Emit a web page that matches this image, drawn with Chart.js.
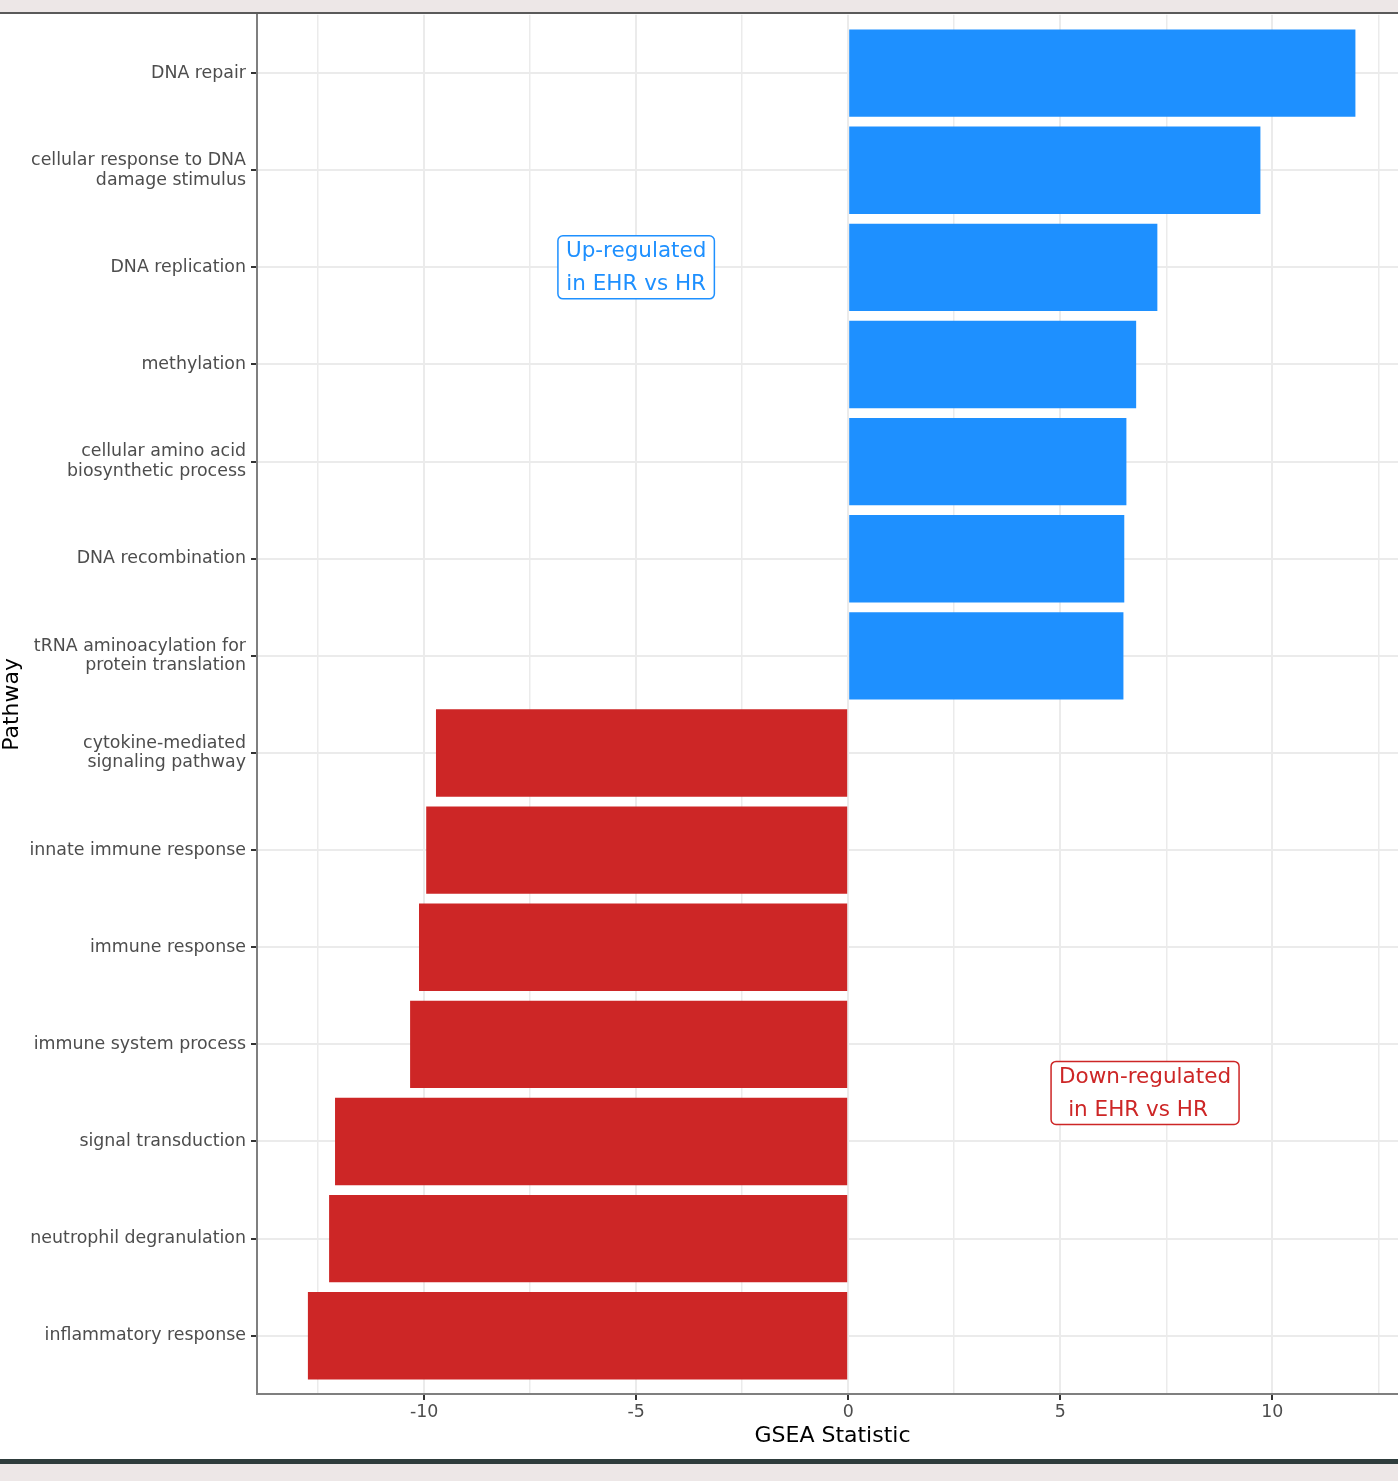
<!DOCTYPE html>
<html><head><meta charset="utf-8">
<script src="https://cdn.jsdelivr.net/npm/chart.js@4/dist/chart.umd.min.js"></script>
<style>
html,body{margin:0;padding:0;overflow:hidden;background:#ede7e7;width:1398px;height:1481px}
canvas{display:block}
</style>
</head><body>
<canvas id="c" width="1420" height="1481"></canvas>
<script>
// ---- data ----
const pathways = [
  ["DNA repair"],
  ["cellular response to DNA", "damage stimulus"],
  ["DNA replication"],
  ["methylation"],
  ["cellular amino acid", "biosynthetic process"],
  ["DNA recombination"],
  ["tRNA aminoacylation for", "protein translation"],
  ["cytokine-mediated", "signaling pathway"],
  ["innate immune response"],
  ["immune response"],
  ["immune system process"],
  ["signal transduction"],
  ["neutrophil degranulation"],
  ["inflammatory response"]
];
const gseaStat = [11.96, 9.72, 7.29, 6.79, 6.56, 6.51, 6.49, -9.72, -9.95, -10.12, -10.33, -12.10, -12.24, -12.74];
const xMajorTicks = [-10, -5, 0, 5, 10];
const xMinorTicks = [-12.5, -7.5, -2.5, 2.5, 7.5, 12.5];
const upLabel = ["Up-regulated", "in EHR vs HR"];
const downLabel = ["Down-regulated", "in EHR vs HR"];

const BLUE = '#1E90FF', RED = '#CD2626';
const FONT = '"DejaVu Sans", "Liberation Sans", sans-serif';

const framePlugin = {
  id: 'frame',
  beforeDraw(chart) {
    const ctx = chart.ctx;
    ctx.save();
    ctx.fillStyle = '#ede7e7';
    ctx.fillRect(0, 0, chart.width, chart.height);
    ctx.fillStyle = '#ffffff';
    ctx.fillRect(0, 14, chart.width, 1445);
    ctx.restore();
  },
  afterDraw(chart) {
    const ctx = chart.ctx;
    ctx.save();
    ctx.fillStyle = '#5a5a5a';
    ctx.fillRect(0, 12, chart.width, 2);
    ctx.fillStyle = '#2e3c3c';
    ctx.fillRect(0, 1459, chart.width, 5);
    // axis titles
    const ca = chart.chartArea;
    ctx.fillStyle = '#000000';
    ctx.font = '22px ' + FONT;
    ctx.textAlign = 'center';
    ctx.textBaseline = 'middle';
    ctx.fillText('GSEA Statistic', (ca.left + ca.right) / 2, 1436);
    ctx.translate(12, (ca.top + ca.bottom) / 2);
    ctx.rotate(-Math.PI / 2);
    ctx.fillText('Pathway', 0, 0);
    ctx.restore();
  }
};

const labelPlugin = {
  id: 'boxLabels',
  afterDatasetsDraw(chart, args, opts) {
    const ctx = chart.ctx;
    const xs = chart.scales.x, ys = chart.scales.y;
    ctx.save();
    ctx.font = '21.5px ' + FONT;
    ctx.textAlign = 'center';
    ctx.textBaseline = 'middle';
    (opts.items || []).forEach(a => {
      const cx = xs.getPixelForValue(a.x);
      const cy = ys.getPixelForValue(a.y);
      const w = Math.max(...a.lines.map(l => ctx.measureText(l).width)) + 16;
      const h = 63;
      ctx.beginPath();
      ctx.roundRect(cx - w / 2, cy - h / 2, w, h, 5);
      ctx.fillStyle = '#ffffff';
      ctx.fill();
      ctx.lineWidth = 1.5;
      ctx.strokeStyle = a.color;
      ctx.stroke();
      ctx.fillStyle = a.color;
      a.lines.forEach((l, i) => {
        ctx.fillText(l, cx + (a.dx ? a.dx[i] : 0), cy + (i - 0.5) * 33 + 1);
      });
    });
    ctx.restore();
  }
};

const isMajor = v => xMajorTicks.includes(v);

new Chart(document.getElementById('c'), {
  type: 'bar',
  data: {
    datasets: [{
      data: gseaStat.map((v, i) => ({x: v, y: i})),
      backgroundColor: ctx => (ctx.raw && ctx.raw.x >= 0) ? BLUE : RED,
      borderWidth: 0,
      categoryPercentage: 1,
      barPercentage: 0.9
    }]
  },
  plugins: [framePlugin, labelPlugin],
  options: {
    indexAxis: 'y',
    responsive: false,
    animation: false,
    devicePixelRatio: 1,
    layout: {padding: {left: 0, top: 14, right: 12, bottom: 0}},
    plugins: {
      legend: {display: false},
      tooltip: {enabled: false},
      boxLabels: {
        items: [
          {x: -5.0, y: 2, lines: upLabel, color: BLUE},
          {x: 7.0, y: 10.5, lines: downLabel, color: RED, dx: [0, -7]}
        ]
      }
    },
    scales: {
      x: {
        type: 'linear',
        min: -13.94,
        max: 13.2,
        offset: false,
        afterBuildTicks: s => { s.ticks = [...xMinorTicks, ...xMajorTicks].sort((a, b) => a - b).map(v => ({value: v})); },
        afterFit: s => { s.height = 87; },
        ticks: {
          autoSkip: false,
          maxRotation: 0,
          padding: 2,
          color: '#4d4d4d',
          font: {family: FONT, size: 17.4},
          callback: v => isMajor(v) ? String(v) : ''
        },
        grid: {
          offset: false,
          color: '#ebebeb',
          lineWidth: c => (c.tick && isMajor(c.tick.value)) ? 2 : 1.5,
          tickLength: 6,
          tickWidth: 2,
          tickColor: c => (c.tick && isMajor(c.tick.value)) ? '#333333' : 'rgba(0,0,0,0)'
        },
        border: {display: true, color: '#7f7f7f', width: 2}
      },
      y: {
        type: 'linear',
        reverse: true,
        offset: false,
        min: -0.6,
        max: pathways.length - 1 + 0.6,
        afterBuildTicks: s => { s.ticks = pathways.map((_, i) => ({value: i})); },
        afterFit: s => { s.width = 257; },
        ticks: {
          autoSkip: false,
          padding: 5,
          color: '#4d4d4d',
          font: {family: FONT, size: 17.4, lineHeight: 1.13},
          callback: v => pathways[v]
        },
        grid: {
          offset: false,
          color: '#ebebeb',
          lineWidth: 2,
          tickLength: 6,
          tickWidth: 2,
          tickColor: '#333333'
        },
        border: {display: true, color: '#7f7f7f', width: 2}
      }
    }
  }
});
</script>
</body></html>
